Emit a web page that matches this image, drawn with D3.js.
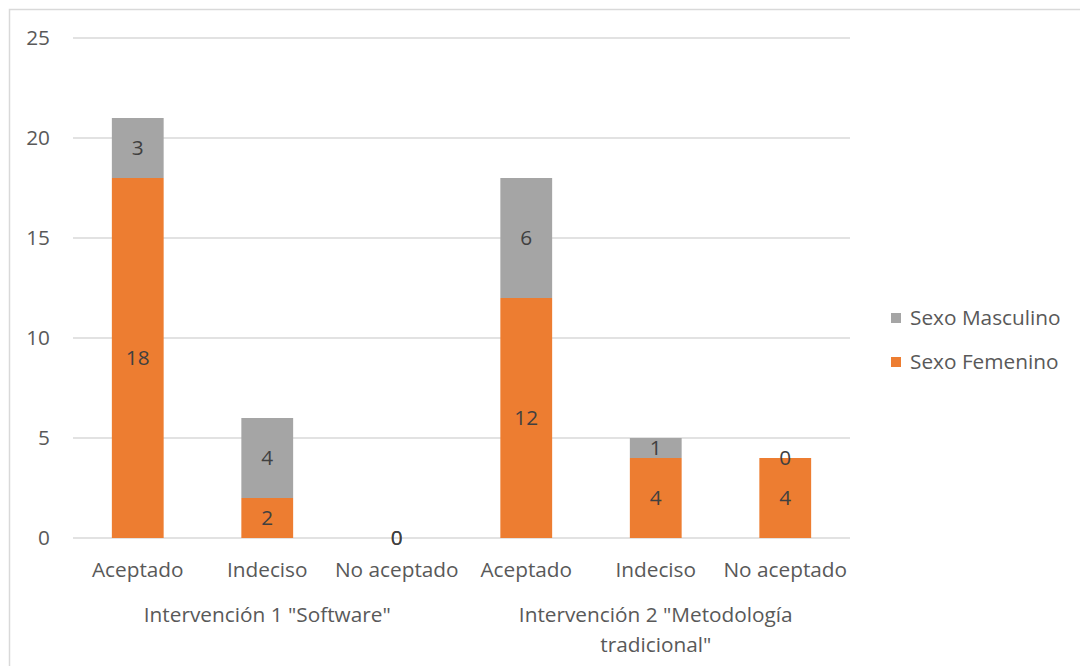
<!DOCTYPE html>
<html><head><meta charset="utf-8">
<script src="https://cdn.jsdelivr.net/npm/d3@7"></script>
<style>body{margin:0;background:#fff}svg{display:block}text{font-family:"Open Sans",sans-serif}</style>
</head><body><svg id="c" width="1080" height="666"></svg>
<script>
const categories = ["Aceptado","Indeciso","No aceptado","Aceptado","Indeciso","No aceptado"];
const groups = [["Intervención 1 \"Software\""],["Intervención 2 \"Metodología","tradicional\""]];
const femenino = [18,2,0,12,4,4];
const masculino = [3,4,0,6,1,0];
const seriesNames = ["Sexo Masculino","Sexo Femenino"];
const yTicks = [0,5,10,15,20,25];

const svg = d3.select("#c");
svg.append("rect").attr("x",9.5).attr("y",9.5).attr("width",1100).attr("height",700)
  .attr("fill","none").attr("stroke","#d9d9d9").attr("stroke-width",1.5);

const x = d3.scaleBand().domain(d3.range(categories.length)).range([73,850]).paddingInner(0.6).paddingOuter(0.3);
const y = d3.scaleLinear().domain([0,25]).range([538,38]);
const fs = 20.8;

svg.append("g").selectAll("line").data(yTicks).join("line")
  .attr("x1",73).attr("x2",850).attr("y1",d=>y(d)).attr("y2",d=>y(d))
  .attr("stroke","#d9d9d9").attr("stroke-width",1.5);
svg.append("g").selectAll("text").data(yTicks).join("text")
  .attr("x",50).attr("y",d=>y(d)).attr("dy","0.35em").attr("text-anchor","end")
  .attr("fill","#595959").attr("font-size",fs).text(d=>d);

const stack = d3.stack().keys(["f","m"])(femenino.map((f,i)=>({f,m:masculino[i]})));
const colors = {f:"#ED7D31", m:"#A5A5A5"};
stack.forEach(layer=>{
  const g = svg.append("g");
  g.selectAll("rect").data(layer).join("rect")
    .attr("x",(d,i)=>x(i)).attr("width",x.bandwidth())
    .attr("y",d=>y(d[1])).attr("height",d=>y(d[0])-y(d[1]))
    .attr("fill",colors[layer.key]);
});
stack.forEach(layer=>{
  svg.append("g").selectAll("text").data(layer).join("text")
    .attr("x",(d,i)=>x(i)+x.bandwidth()/2)
    .attr("y",d=>(y(d[0])+y(d[1]))/2).attr("dy","0.35em")
    .attr("text-anchor","middle").attr("fill","#404040").attr("font-size",fs)
    .text(d=>d[1]-d[0]);
});

svg.append("g").selectAll("text").data(categories).join("text")
  .attr("x",(d,i)=>x(i)+x.bandwidth()/2).attr("y",570).attr("dy","0.35em")
  .attr("text-anchor","middle").attr("fill","#595959").attr("font-size",fs).text(d=>d);

groups.forEach((lines,gi)=>{
  const cx = (x(gi*3)+x(gi*3+2)+x.bandwidth())/2;
  lines.forEach((t,li)=>{
    svg.append("text").attr("x",cx).attr("y",615+li*30).attr("dy","0.35em")
      .attr("text-anchor","middle").attr("fill","#595959").attr("font-size",fs).text(t);
  });
});

const leg = svg.append("g");
seriesNames.forEach((n,i)=>{
  const yy = 318+i*44;
  leg.append("rect").attr("x",891).attr("y",yy-5).attr("width",10).attr("height",10)
    .attr("fill",i===0?colors.m:colors.f);
  leg.append("text").attr("x",910).attr("y",yy).attr("dy","0.35em")
    .attr("fill","#595959").attr("font-size",fs).text(n);
});
</script></body></html>
